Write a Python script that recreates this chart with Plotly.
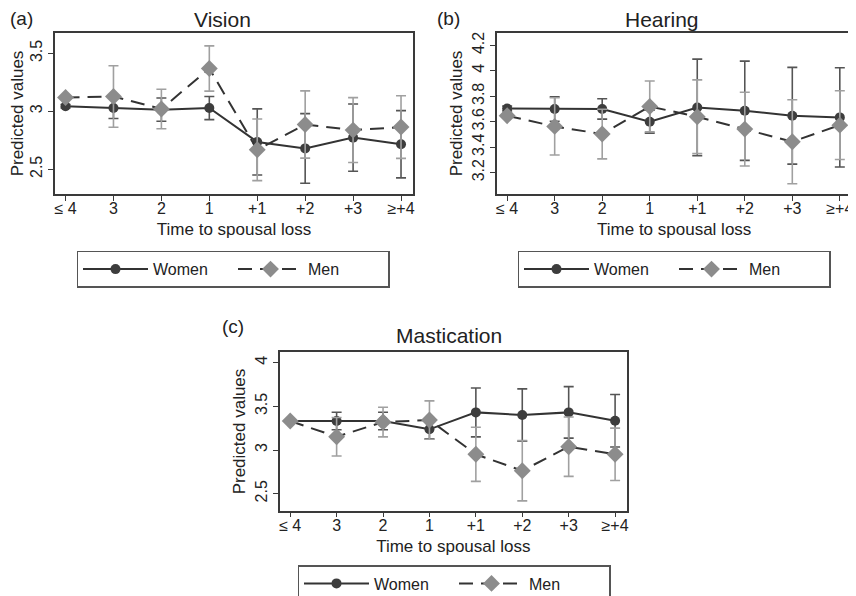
import plotly.graph_objects as go

categories = ["≤ 4", "3", "2", "1", "+1", "+2", "+3", "≥+4"]

vision_women = [3.043, 3.028, 3.014, 3.028, 2.736, 2.680, 2.773, 2.716]
vision_women_ci = [0.015, 0.09, 0.10, 0.10, 0.285, 0.30, 0.29, 0.29]
vision_men = [3.119, 3.128, 3.020, 3.369, 2.668, 2.886, 2.838, 2.864]
vision_men_ci = [0.015, 0.265, 0.17, 0.195, 0.266, 0.29, 0.28, 0.27]

hearing_women = [3.704, 3.700, 3.700, 3.600, 3.712, 3.686, 3.647, 3.634]
hearing_women_ci = [0.02, 0.096, 0.08, 0.09, 0.38, 0.39, 0.38, 0.39]
hearing_men = [3.647, 3.563, 3.503, 3.720, 3.639, 3.542, 3.443, 3.573]
hearing_men_ci = [0.02, 0.225, 0.195, 0.20, 0.29, 0.29, 0.33, 0.27]

mast_women = [3.332, 3.332, 3.332, 3.237, 3.431, 3.400, 3.431, 3.335]
mast_women_ci = [0.01, 0.10, 0.10, 0.11, 0.28, 0.30, 0.295, 0.30]
mast_men = [3.332, 3.152, 3.320, 3.343, 2.951, 2.763, 3.038, 2.951]
mast_men_ci = [0.01, 0.22, 0.17, 0.22, 0.31, 0.345, 0.34, 0.30]

panels = [
    ("Vision", "(a)", vision_women, vision_women_ci, vision_men, vision_men_ci,
     [2.5, 3, 3.5], ["2.5", "3", "3.5"], [2.287, 3.675]),
    ("Hearing", "(b)", hearing_women, hearing_women_ci, hearing_men, hearing_men_ci,
     [3.2, 3.4, 3.6, 3.8, 4.0, 4.2], ["3.2", "3.4", "3.6", "3.8", "4", "4.2"], [3.032, 4.297]),
    ("Mastication", "(c)", mast_women, mast_women_ci, mast_men, mast_men_ci,
     [2.5, 3, 3.5, 4], ["2.5", "3", "3.5", "4"], [2.305, 4.119]),
]

# the page body has an 8px margin; figure is placed at (8, 8) in the window
OFF = 8
W, H = 856 - OFF, 596 - OFF
FONT = "Liberation Sans, Arial, Helvetica, sans-serif"
AX = "#3a3a3a"


def px(X):
    return (X - OFF) / W


def py(Y):
    return 1 - (Y - OFF) / H


# window-pixel frames: (left, right, top, bottom)
frames = [(55, 413, 33, 194), (496.7, 851.7, 33, 194), (280, 626.7, 352.3, 510.7)]
titles_xy = [(222.7, 19.5), (662.3, 19.5), (449.3, 335)]
labels_xy = [(8, 19), (435, 19), (220, 326)]
legend_xy = [(233, 250.7), (674, 250.7), (454, 565)]

fig = go.Figure()
layout = dict(
    width=W, height=H, margin=dict(l=0, r=0, t=0, b=0, autoexpand=False),
    paper_bgcolor="white", plot_bgcolor="white",
    font=dict(family=FONT, size=17, color="#222"),
    annotations=[],
)

for i, (title, lab, w, wci, m, mci, tv, tt, yr) in enumerate(panels):
    sfx = "" if i == 0 else str(i + 1)
    xa, ya = "x" + sfx, "y" + sfx
    leg = "legend" + sfx
    fig.add_trace(go.Scatter(
        x=categories, y=w, xaxis=xa, yaxis=ya, name="Women", legend=leg,
        mode="lines+markers",
        line=dict(color="#333333", width=2),
        marker=dict(symbol="circle", size=10, color="#3d3d3d"),
        error_y=dict(type="data", array=wci, visible=True, color="#555555",
                     thickness=1.6, width=5),
    ))
    fig.add_trace(go.Scatter(
        x=categories, y=m, xaxis=xa, yaxis=ya, name="Men", legend=leg,
        mode="lines+markers",
        line=dict(color="#333333", width=2, dash="14px,8px"),
        marker=dict(symbol="diamond", size=13, color="#8c8c8c"),
        error_y=dict(type="data", array=mci, visible=True, color="#a0a0a0",
                     thickness=1.6, width=5),
    ))
    l, r, t, b = frames[i]
    layout["xaxis" + sfx] = dict(
        domain=[px(l), px(r)], anchor=ya, type="category", automargin=True,
        range=[-0.22, 7.25], showline=True, mirror=True, linecolor=AX, linewidth=1.5,
        ticks="outside", ticklen=5, tickcolor=AX, tickwidth=1.3,
        ticklabelstandoff=-6,
        showgrid=False, zeroline=False,
        tickfont=dict(size=16, color="#222"),
        title=dict(text="Time to spousal loss", font=dict(size=17, color="#222"), standoff=7),
    )
    layout["yaxis" + sfx] = dict(
        domain=[py(b), py(t)], anchor=xa, range=yr, automargin=True,
        tickmode="array", tickvals=tv, ticktext=tt, tickangle=-90,
        showline=True, mirror=True, linecolor=AX, linewidth=1.5,
        ticks="outside", ticklen=5, tickcolor=AX, tickwidth=1.3,
        showgrid=False, zeroline=False,
        tickfont=dict(size=16, color="#222"),
        title=dict(text="Predicted values", font=dict(size=17, color="#222"), standoff=3),
    )
    tx, ty = titles_xy[i]
    layout["annotations"].append(dict(
        text=title, x=px(tx), y=py(ty), xref="paper", yref="paper",
        xanchor="center", yanchor="middle", showarrow=False,
        font=dict(size=21, color="#222")))
    lx, ly = labels_xy[i]
    layout["annotations"].append(dict(
        text=lab, x=px(lx), y=py(ly), xref="paper", yref="paper",
        xanchor="left", yanchor="middle", showarrow=False,
        font=dict(size=19, color="#222")))
    gx, gy = legend_xy[i]
    layout[leg] = dict(
        orientation="h", x=px(gx), y=py(gy), xanchor="center", yanchor="top",
        xref="paper", yref="paper",
        bordercolor="#555", borderwidth=1.5, bgcolor="white",
        font=dict(size=16, color="#222"), itemwidth=65,
        entrywidth=75, entrywidthmode="pixels",
    )

fig.update_layout(**layout)
fig.write_html("out.html")
